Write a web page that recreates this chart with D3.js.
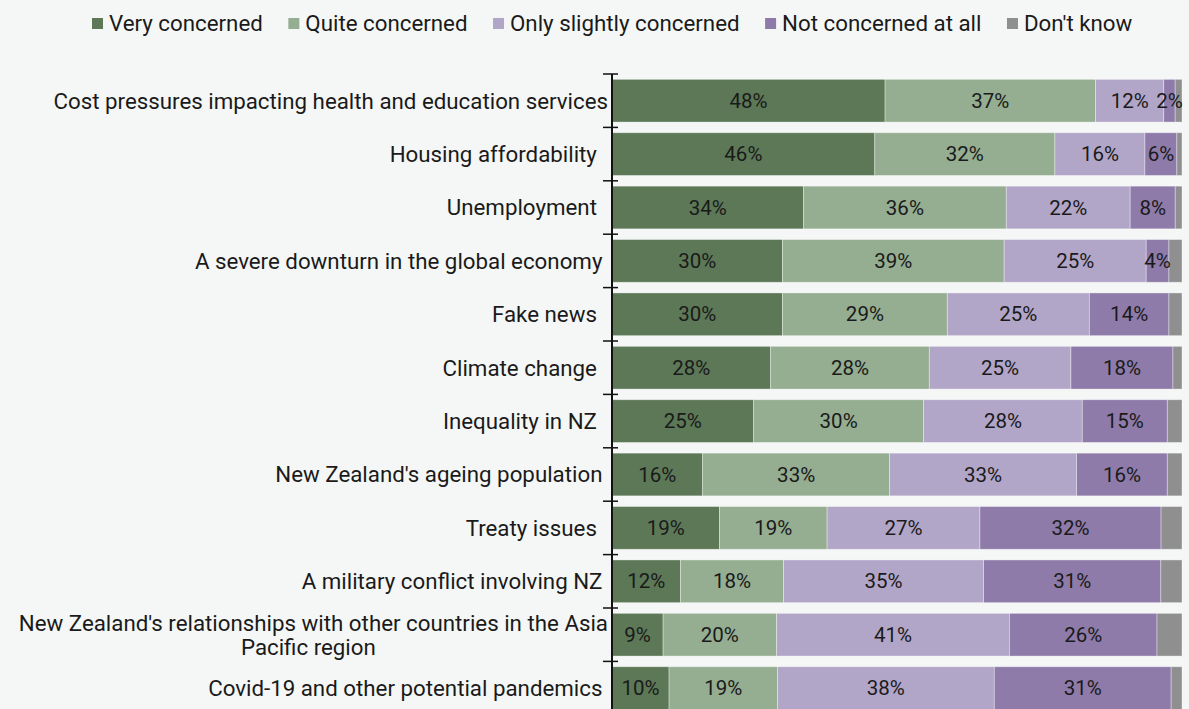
<!DOCTYPE html>
<html>
<head>
<meta charset="utf-8">
<script src="https://cdn.jsdelivr.net/npm/d3@7"></script>
<style>
  body { margin: 0; background: #f5f7f6; }
  svg { display: block; font-family: Roboto, "Noto Sans", sans-serif; }
  text { white-space: pre; }
</style>
</head>
<body>
<div id="chart"></div>
<script>
const categories = [
  "Cost pressures impacting health and education services",
  "Housing affordability  ",
  "Unemployment  ",
  "A severe downturn in the global economy ",
  "Fake news  ",
  "Climate change  ",
  "Inequality in NZ  ",
  "New Zealand's ageing population ",
  "Treaty issues  ",
  "A military conflict involving NZ ",
  "New Zealand's relationships with other countries in the Asia Pacific region",
  "Covid-19 and other potential pandemics "
];

const seriesNames = ["Very concerned", "Quite concerned", "Only slightly concerned", "Not concerned at all", "Don't know"];
const seriesColors = ["#5c7857", "#95ad91", "#b2a6c8", "#8e7ba9", "#8f8f8f"];

const veryConcerned  = [48, 46.1, 34, 30, 30, 28, 25, 16, 19, 12, 9, 10];
const quiteConcerned = [37, 31.6, 36, 39, 29, 28, 30, 33, 19, 18, 20, 19];
const onlySlightly   = [12, 15.8, 22, 25, 25, 25, 28, 33, 27, 35, 41, 38];
const notConcerned   = [2, 5.6, 8, 4, 14, 18, 15, 16, 32, 31, 26, 31];
const dontKnow       = [1.2, 0.9, 1.2, 2.3, 2.3, 1.6, 2.6, 2.6, 3.7, 3.7, 4.4, 1.9];

const seriesValues = [veryConcerned, quiteConcerned, onlySlightly, notConcerned, dontKnow];

const width = 1189;
const height = 709;
const plotLeft = 612;
const plotRight = 1182;
const plotTop = 74;
const step = 53.4;
const labelSize = 22.3;

const rows = categories.map((c, i) => {
  const row = { category: c };
  seriesNames.forEach((s, j) => (row[s] = seriesValues[j][i]));
  return row;
});

const stacked = d3.stack().keys(seriesNames).offset(d3.stackOffsetExpand)(rows);

const x = d3.scaleLinear().domain([0, 1]).range([plotLeft, plotRight]);
const y = d3
  .scaleBand()
  .domain(categories)
  .range([plotTop, plotTop + step * categories.length])
  .paddingInner(0.2)
  .paddingOuter(0.1);

const color = d3.scaleOrdinal().domain(seriesNames).range(seriesColors);

const svg = d3
  .select("#chart")
  .append("svg")
  .attr("width", width)
  .attr("height", height);

svg.append("rect").attr("width", width).attr("height", height).attr("fill", "#f5f7f6");

// legend
const legend = svg.append("g").attr("transform", "translate(92, 0)");
let lx = 0;
seriesNames.forEach((s) => {
  const g = legend.append("g").attr("transform", `translate(${lx}, 0)`);
  g.append("rect")
    .attr("x", 0)
    .attr("y", 18)
    .attr("width", 11)
    .attr("height", 11)
    .attr("fill", color(s));
  const t = g
    .append("text")
    .attr("x", 17)
    .attr("y", 31)
    .attr("font-size", labelSize)
    .attr("fill", "#1a1a1a")
    .text(s);
  lx += 17 + t.node().getComputedTextLength() + 25.5;
});

// category axis: cross ticks at band boundaries
const boundaries = categories.map((c) => y(c) - (y.step() * y.paddingInner()) / 2);
svg
  .append("g")
  .selectAll("line")
  .data(boundaries)
  .join("line")
  .attr("x1", plotLeft - 9)
  .attr("x2", plotLeft + 6)
  .attr("y1", (d) => d)
  .attr("y2", (d) => d)
  .attr("stroke", "#111")
  .attr("stroke-width", 1.5);

// bars
svg
  .append("g")
  .selectAll("g")
  .data(stacked)
  .join("g")
  .attr("fill", (d) => color(d.key))
  .selectAll("rect")
  .data((d) => d)
  .join("rect")
  .attr("x", (d) => x(d[0]))
  .attr("y", (d) => y(d.data.category))
  .attr("width", (d) => x(d[1]) - x(d[0]))
  .attr("height", y.bandwidth())
  .attr("stroke", "#ffffff")
  .attr("stroke-opacity", 0.45)
  .attr("stroke-width", 0.8);

// value labels
svg
  .append("g")
  .selectAll("g")
  .data(stacked.filter((s) => s.key !== "Don't know"))
  .join("g")
  .selectAll("text")
  .data((d) => d.map((p) => ({ p, key: d.key })))
  .join("text")
  .attr("x", (d) => (x(d.p[0]) + x(d.p[1])) / 2)
  .attr("y", (d) => y(d.p.data.category) + y.bandwidth() / 2)
  .attr("dy", "0.35em")
  .attr("text-anchor", "middle")
  .attr("font-size", 20.5)
  .attr("fill", "#1a1a1a")
  .text((d) => Math.round(d.p.data[d.key]) + "%");

svg
  .append("line")
  .attr("x1", plotLeft)
  .attr("x2", plotLeft)
  .attr("y1", plotTop)
  .attr("y2", height)
  .attr("stroke", "#111")
  .attr("stroke-width", 2);

// category labels, wrapped when too long
const labelX = 608;
const maxWidth = 600;
const labels = svg.append("g");
categories.forEach((c) => {
  const cy = y(c) + y.bandwidth() / 2;
  const t = labels
    .append("text")
    .attr("font-size", labelSize)
    .attr("fill", "#1a1a1a")
    .attr("text-anchor", "end")
    .attr("x", labelX)
    .attr("y", cy)
    .attr("dy", "0.35em")
    .text(c);
  if (t.node().getComputedTextLength() <= maxWidth) return;

  const words = c.split(" ");
  const lines = [];
  let line = [];
  t.text(null);
  const probe = t.append("tspan");
  words.forEach((w) => {
    line.push(w);
    probe.text(line.join(" "));
    if (probe.node().getComputedTextLength() > maxWidth && line.length > 1) {
      line.pop();
      lines.push(line.join(" "));
      line = [w];
    }
  });
  lines.push(line.join(" "));
  probe.remove();

  const widths = lines.map((l) => {
    const s = t.append("tspan").text(l);
    const w = s.node().getComputedTextLength();
    s.remove();
    return w;
  });
  const cx = labelX - 5 - d3.max(widths) / 2;
  t.attr("text-anchor", "middle");
  lines.forEach((l, i) => {
    t.append("tspan")
      .attr("x", i === 0 ? cx + 5 : cx)
      .attr("y", cy + (i - (lines.length - 1) / 2) * 24)
      .attr("dy", "0.35em")
      .text(l);
  });
});
</script>
</body>
</html>
